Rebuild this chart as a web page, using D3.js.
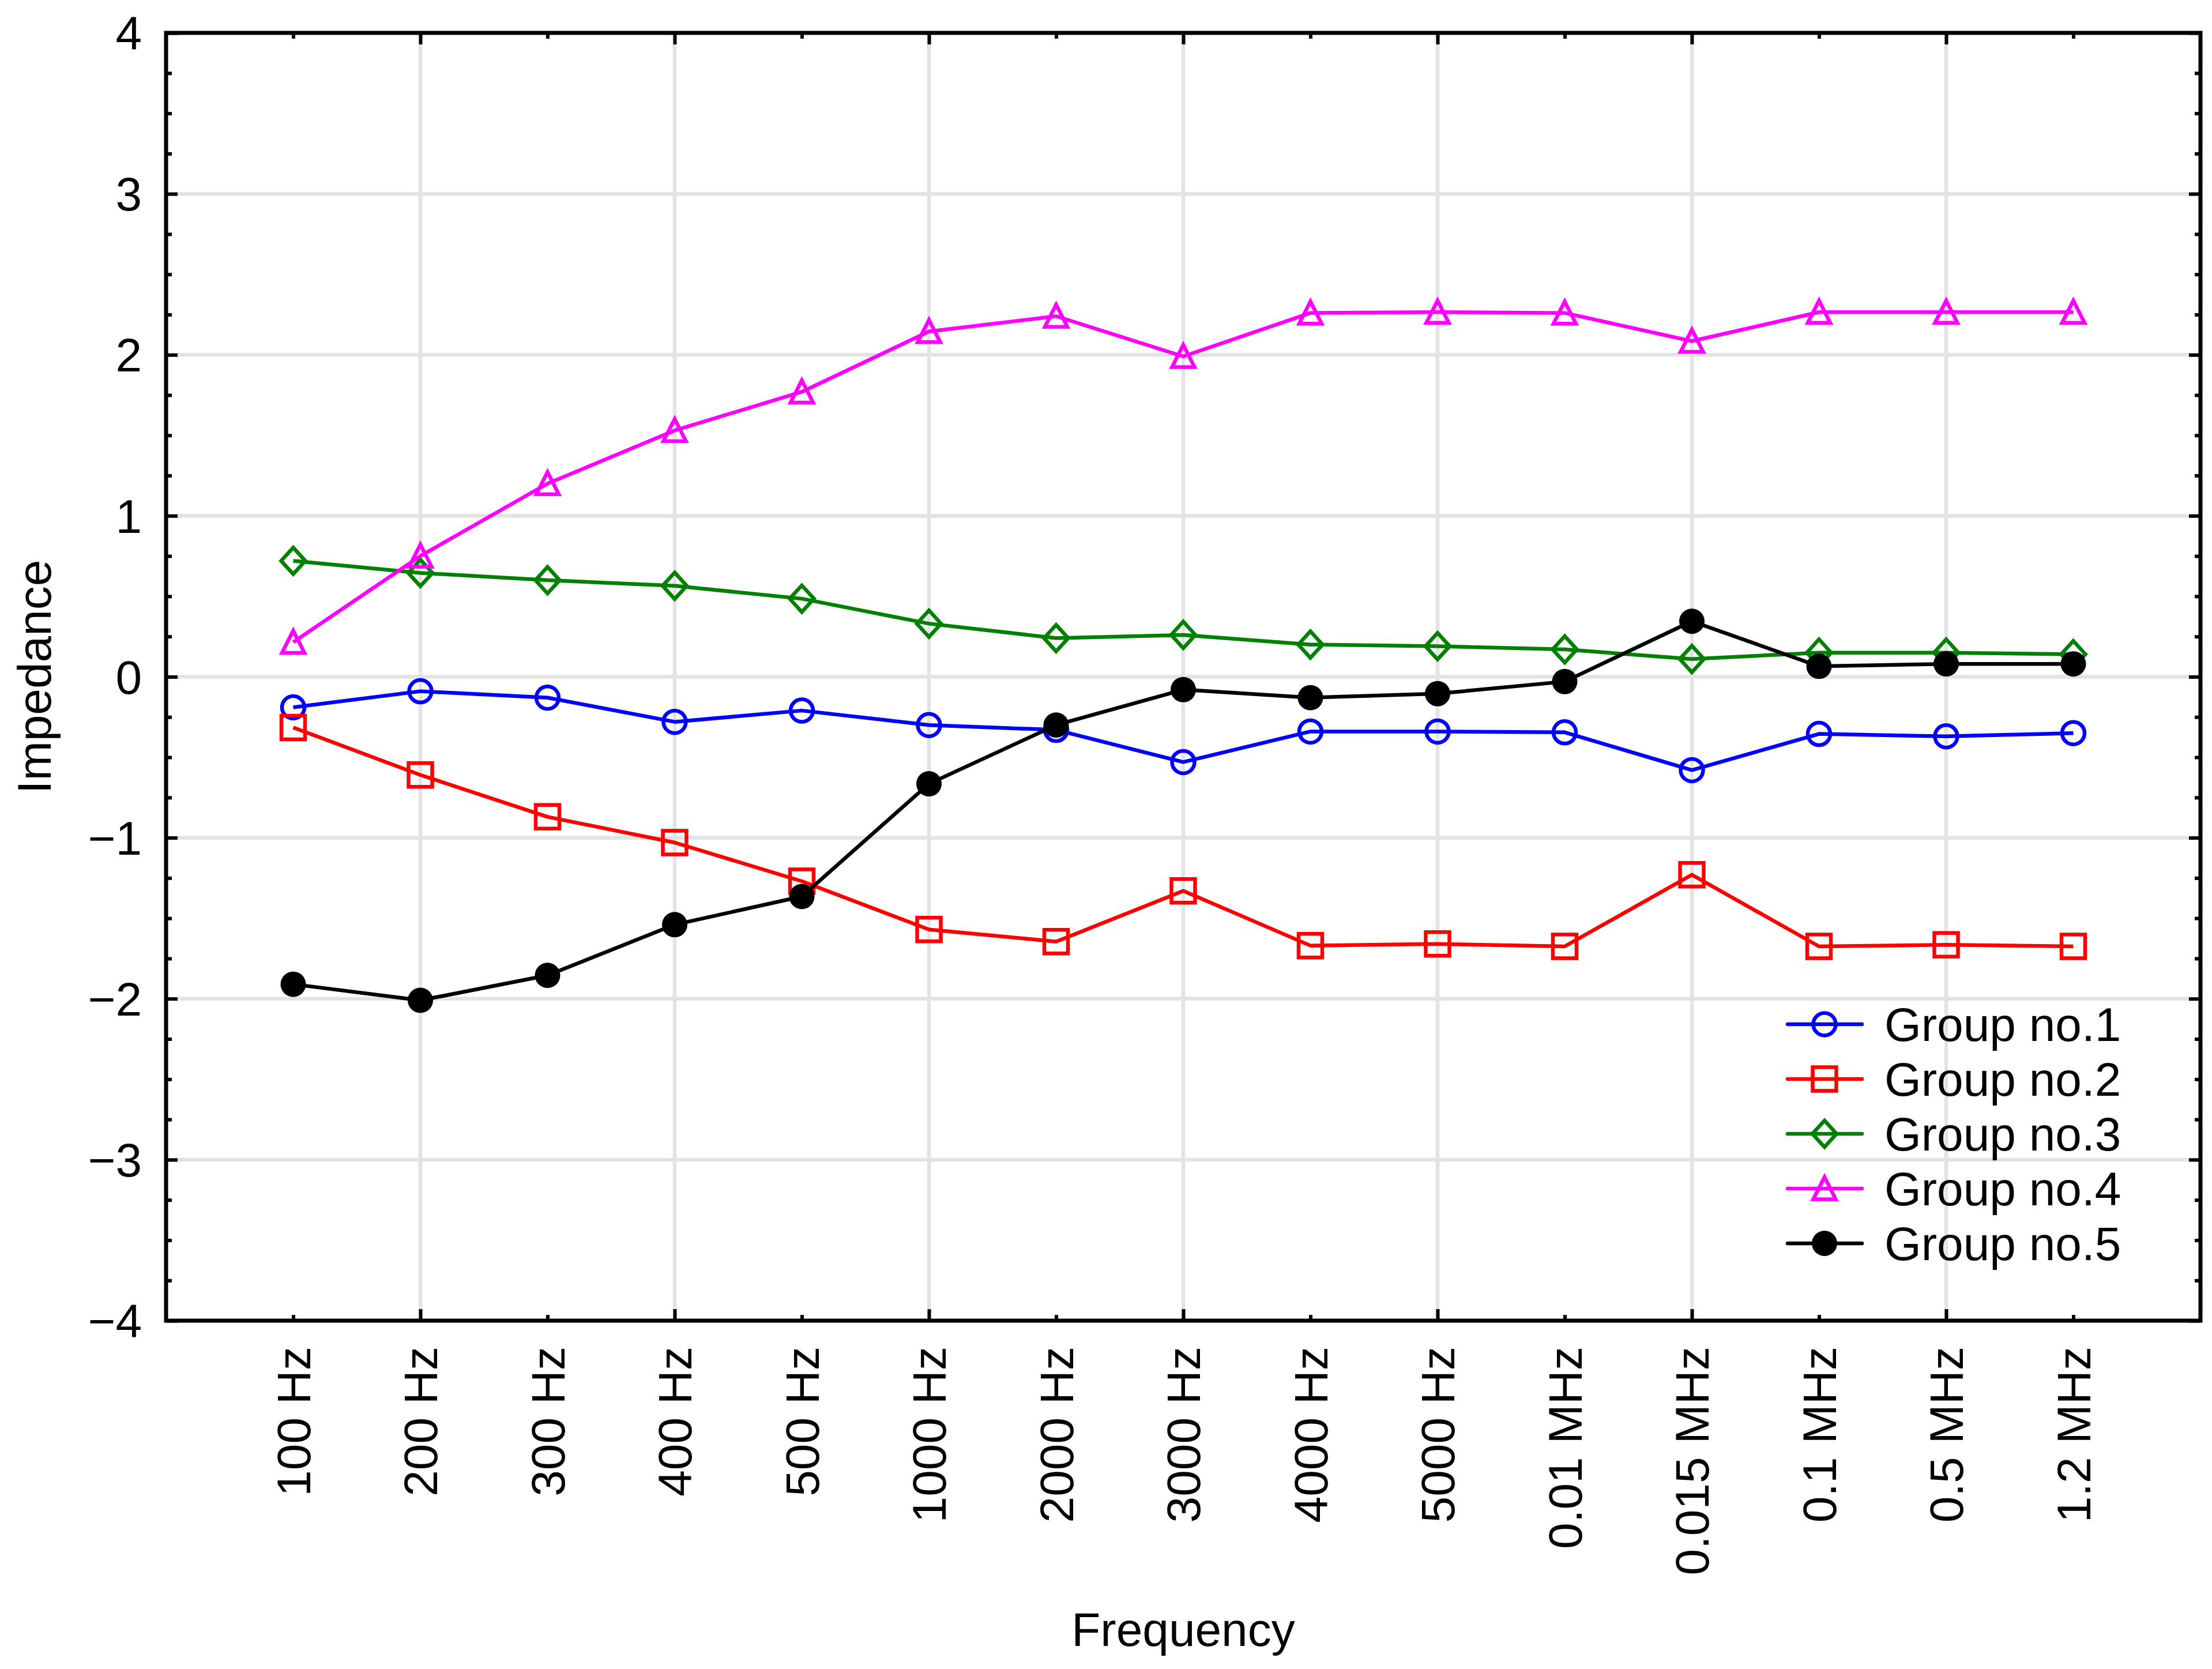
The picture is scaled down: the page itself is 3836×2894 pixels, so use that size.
<!DOCTYPE html>
<html>
<head>
<meta charset="utf-8">
<script src="https://cdn.jsdelivr.net/npm/d3@7"></script>
<style>
  body { margin: 0; background: #fff; }
  svg { display: block; font-family: Arial, "Liberation Sans", sans-serif; }
</style>
</head>
<body>
<div id="chart"></div>
<script>
// --- data ---
const categories = ["100 Hz", "200 Hz", "300 Hz", "400 Hz", "500 Hz", "1000 Hz", "2000 Hz", "3000 Hz",
  "4000 Hz", "5000 Hz", "0.01 MHz", "0.015 MHz", "0.1 MHz", "0.5 MHz", "1.2 MHz"];

const group1 = [-0.19, -0.09, -0.13, -0.28, -0.21, -0.30, -0.33, -0.53, -0.34, -0.34, -0.345, -0.58, -0.355, -0.37, -0.35];
const group2 = [-0.315, -0.61, -0.87, -1.03, -1.27, -1.57, -1.645, -1.33, -1.67, -1.66, -1.675, -1.23, -1.675, -1.665, -1.675];
const group3 = [0.72, 0.645, 0.60, 0.565, 0.485, 0.33, 0.24, 0.26, 0.20, 0.19, 0.17, 0.11, 0.15, 0.15, 0.14];
const group4 = [0.215, 0.75, 1.20, 1.53, 1.77, 2.145, 2.24, 1.99, 2.26, 2.265, 2.26, 2.085, 2.265, 2.265, 2.265];
const group5 = [-1.91, -2.01, -1.855, -1.54, -1.365, -0.665, -0.30, -0.08, -0.13, -0.105, -0.03, 0.345, 0.065, 0.08, 0.08];

const seriesNames = ["Group no.1", "Group no.2", "Group no.3", "Group no.4", "Group no.5"];
const seriesValues = [group1, group2, group3, group4, group5];
const seriesColors = ["#0000ff", "#ff0000", "#008000", "#ff00ff", "#000000"];
const seriesMarkers = ["circle", "square", "diamond", "triangle", "dot"];

const yMajorTicks = [-4, -3, -2, -1, 0, 1, 2, 3, 4];
const yMinorTicks = d3.range(-4, 4.001, 0.25).filter(v => Math.abs(v - Math.round(v)) > 1e-6);

const xLabel = "Frequency";
const yLabel = "Impedance";

// --- layout ---
const W = 3836, H = 2894;
const margin = {top: 57, right: 20, bottom: 604, left: 288};
const width = W - margin.left - margin.right;
const height = H - margin.top - margin.bottom;
const fontSize = 82;
const lineW = 6.5;

const svg = d3.select("#chart").append("svg")
  .attr("width", W).attr("height", H)
  .attr("viewBox", `0 0 ${W} ${H}`);

const g = svg.append("g").attr("transform", `translate(${margin.left},${margin.top})`);

const x = d3.scalePoint().domain(categories).range([0, width]).padding(1);
const y = d3.scaleLinear().domain([-4, 4]).range([height, 0]);

const majorCats = categories.filter((c, i) => i % 2 === 1);
const minorCats = categories.filter((c, i) => i % 2 === 0);

// gridlines
g.append("g").selectAll("line").data(yMajorTicks.filter(v => v > -4 && v < 4)).join("line")
  .attr("x1", 0).attr("x2", width)
  .attr("y1", d => y(d)).attr("y2", d => y(d))
  .attr("stroke", "#e3e3e3").attr("stroke-width", 6.5);
g.append("g").selectAll("line").data(majorCats).join("line")
  .attr("x1", d => x(d)).attr("x2", d => x(d))
  .attr("y1", 0).attr("y2", height)
  .attr("stroke", "#e3e3e3").attr("stroke-width", 6.5);

// axes with inward ticks
function styleAxis(sel) {
  sel.select(".domain").remove();
  sel.selectAll(".tick line").attr("stroke", "#000").attr("stroke-width", 6);
  sel.selectAll("text").attr("fill", "#000").style("font-size", fontSize + "px")
    .style("font-family", "Arial, 'Liberation Sans', sans-serif");
}

g.append("g")
  .call(d3.axisLeft(y).tickValues(yMajorTicks).tickSize(-20).tickPadding(42).tickFormat(d3.format("d")))
  .call(styleAxis)
  .selectAll("text").attr("dy", "0.35em");
g.append("g")
  .call(d3.axisLeft(y).tickValues(yMinorTicks).tickSize(-10).tickFormat(""))
  .call(styleAxis);
g.append("g").attr("transform", `translate(${width},0)`)
  .call(d3.axisRight(y).tickValues(yMajorTicks).tickSize(-20).tickFormat(""))
  .call(styleAxis);
g.append("g").attr("transform", `translate(${width},0)`)
  .call(d3.axisRight(y).tickValues(yMinorTicks).tickSize(-10).tickFormat(""))
  .call(styleAxis);

const xAxisG = g.append("g").attr("transform", `translate(0,${height})`)
  .call(d3.axisBottom(x).tickValues(categories).tickSize(0))
  .call(styleAxis);
xAxisG.selectAll("text")
  .attr("transform", "rotate(-90)")
  .attr("x", -45).attr("y", 0).attr("dy", "0.35em")
  .attr("text-anchor", "end");

g.append("g").attr("transform", `translate(0,${height})`)
  .call(d3.axisBottom(x).tickValues(majorCats).tickSize(-20).tickFormat(""))
  .call(styleAxis);
g.append("g").attr("transform", `translate(0,${height})`)
  .call(d3.axisBottom(x).tickValues(minorCats).tickSize(-10).tickFormat(""))
  .call(styleAxis);
g.append("g")
  .call(d3.axisTop(x).tickValues(majorCats).tickSize(-20).tickFormat(""))
  .call(styleAxis);
g.append("g")
  .call(d3.axisTop(x).tickValues(minorCats).tickSize(-10).tickFormat(""))
  .call(styleAxis);

// markers
function markerPath(type) {
  const p = d3.path();
  if (type === "circle") { p.arc(0, 0, 19.5, 0, 2 * Math.PI); p.closePath(); }
  else if (type === "dot") { p.arc(0, 0, 22, 0, 2 * Math.PI); p.closePath(); }
  else if (type === "square") { p.rect(-20.5, -20.5, 41, 41); }
  else if (type === "diamond") { p.moveTo(0, -23); p.lineTo(21, 0); p.lineTo(0, 23); p.lineTo(-21, 0); p.closePath(); }
  else if (type === "triangle") { p.moveTo(0, -20); p.lineTo(19.5, 18.5); p.lineTo(-19.5, 18.5); p.closePath(); }
  return p.toString();
}

const line = d3.line().x((d, i) => x(categories[i])).y(d => y(d));

seriesValues.forEach((vals, s) => {
  const color = seriesColors[s];
  const type = seriesMarkers[s];
  const sg = g.append("g");
  sg.append("path").datum(vals)
    .attr("fill", "none").attr("stroke", color).attr("stroke-width", lineW)
    .attr("stroke-linejoin", "round").attr("d", line);
  sg.selectAll("path.m").data(vals).join("path").attr("class", "m")
    .attr("transform", (d, i) => `translate(${x(categories[i])},${y(d)})`)
    .attr("d", markerPath(type))
    .attr("fill", type === "dot" ? color : "none")
    .attr("stroke", type === "dot" ? "none" : color)
    .attr("stroke-width", lineW);
});

// frame
g.append("rect").attr("x", 0).attr("y", 0).attr("width", width).attr("height", height)
  .attr("fill", "none").attr("stroke", "#000").attr("stroke-width", 7);

// legend
const legend = svg.append("g");
seriesNames.forEach((name, s) => {
  const ly = 1776 + s * 95;
  const type = seriesMarkers[s];
  legend.append("line").attr("x1", 3100).attr("x2", 3229).attr("y1", ly).attr("y2", ly)
    .attr("stroke", seriesColors[s]).attr("stroke-width", lineW).attr("stroke-linecap", "round");
  legend.append("path").attr("transform", `translate(3164,${ly})`)
    .attr("d", markerPath(type))
    .attr("fill", type === "dot" ? seriesColors[s] : "none")
    .attr("stroke", type === "dot" ? "none" : seriesColors[s])
    .attr("stroke-width", lineW);
  legend.append("text").attr("x", 3268).attr("y", ly).attr("dy", "0.35em")
    .style("font-size", fontSize + "px").text(name);
});

// axis titles
svg.append("text").attr("x", margin.left + width / 2).attr("y", 2854)
  .attr("text-anchor", "middle").style("font-size", fontSize + "px").text(xLabel);
svg.append("text")
  .attr("transform", `translate(88,${margin.top + height / 2}) rotate(-90)`)
  .attr("text-anchor", "middle").style("font-size", fontSize + "px").text(yLabel);
</script>
</body>
</html>
